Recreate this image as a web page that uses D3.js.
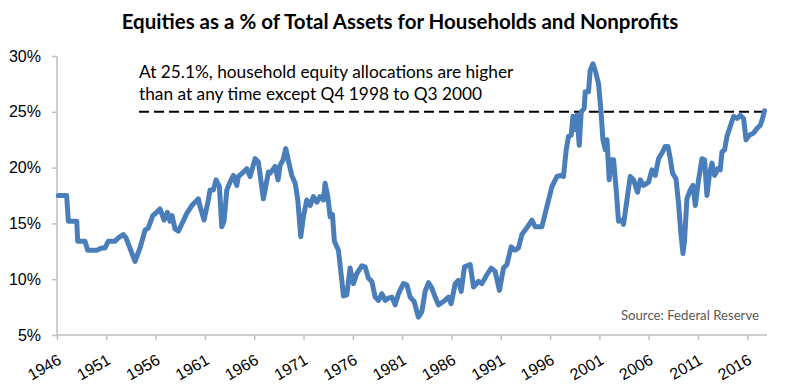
<!DOCTYPE html>
<html>
<head>
<meta charset="utf-8">
<script src="https://cdn.jsdelivr.net/npm/d3@7"></script>
<style>
  body { margin: 0; background: #fff; }
  svg { font-family: Lato, "Open Sans", sans-serif; }
  .title { font-weight: bold; font-size: 20.5px; fill: #000; }
  .note { font-size: 17.3px; fill: #000; }
  .src { font-size: 13.2px; fill: #595959; }
  .axis text { font-size: 16px; fill: #000; }
</style>
</head>
<body>
<svg width="800" height="386"></svg>
<script>
// values (year, % of total assets)
const years = [
  1946.13, 1946.98, 1947.15, 1948.0, 1948.1, 1948.84, 1949.11, 1950.03, 1950.53, 1950.87,
  1951.2, 1951.88, 1952.22, 1952.73, 1953.0, 1953.91, 1954.42, 1954.93, 1955.26, 1955.71,
  1956.11, 1956.45, 1956.86, 1957.19, 1957.46, 1957.67, 1957.97, 1958.31, 1959.16, 1959.67,
  1960.0, 1960.33, 1960.51, 1960.91, 1961.35, 1961.52, 1961.86, 1962.13, 1962.47, 1962.71,
  1962.94, 1963.22, 1963.55, 1963.89, 1964.23, 1964.39, 1964.9, 1965.25, 1965.58, 1966.09,
  1966.42, 1966.93, 1967.44, 1967.61, 1968.12, 1968.42, 1968.62, 1968.93, 1969.2, 1969.44,
  1969.81, 1970.15, 1970.42, 1970.72, 1970.99, 1971.33, 1971.67, 1972.0, 1972.35, 1972.68,
  1973.02, 1973.19, 1973.46, 1973.7, 1973.93, 1974.13, 1974.54, 1974.88, 1975.05, 1975.39,
  1975.72, 1976.06, 1976.4, 1976.91, 1977.25, 1977.58, 1977.93, 1978.26, 1978.6, 1978.94,
  1979.28, 1979.61, 1979.96, 1980.29, 1980.63, 1981.13, 1981.48, 1981.81, 1982.22, 1982.65,
  1983.0, 1983.33, 1983.67, 1984.01, 1984.35, 1984.68, 1985.19, 1985.7, 1985.97, 1986.38,
  1986.71, 1986.99, 1987.32, 1987.9, 1988.24, 1988.74, 1989.09, 1989.59, 1990.03, 1990.43,
  1990.87, 1991.28, 1991.62, 1992.06, 1992.46, 1992.8, 1993.14, 1993.65, 1994.16, 1994.49,
  1995.17, 1995.68, 1996.19, 1996.69, 1997.1, 1997.36, 1997.64, 1997.87, 1998.15, 1998.32,
  1998.55, 1998.72, 1998.96, 1999.16, 1999.46, 1999.57, 1999.9, 2000.07, 2000.35, 2000.58,
  2000.92, 2001.16, 2001.36, 2001.6, 2001.77, 2002.0, 2002.2, 2002.44, 2002.71, 2002.94,
  2003.29, 2003.45, 2003.8, 2004.13, 2004.47, 2004.87, 2005.15, 2005.48, 2005.99, 2006.33,
  2006.67, 2007.0, 2007.41, 2007.68, 2007.96, 2008.19, 2008.42, 2008.77, 2009.03, 2009.27,
  2009.48, 2009.64, 2009.88, 2010.22, 2010.49, 2010.73, 2011.06, 2011.41, 2011.67, 2011.91,
  2012.18, 2012.42, 2012.69, 2013.03, 2013.26, 2013.43, 2013.7, 2013.94, 2014.28, 2014.61,
  2014.96, 2015.29, 2015.63, 2015.87, 2016.2, 2016.64, 2016.98, 2017.32, 2017.55, 2017.75
];
const equityPct = [
  17.5, 17.5, 15.2, 15.2, 13.4, 13.4, 12.6, 12.6, 12.8, 12.8,
  13.4, 13.4, 13.7, 14.0, 13.7, 11.6, 12.8, 14.4, 14.6, 15.7,
  16.0, 16.3, 15.3, 16.0, 15.2, 15.7, 14.5, 14.3, 15.9, 16.6,
  16.9, 17.2, 16.5, 15.3, 17.1, 18.0, 18.0, 18.9, 18.3, 14.7,
  15.2, 18.0, 18.7, 19.3, 18.4, 19.2, 19.6, 19.9, 19.2, 20.8,
  20.5, 17.2, 19.6, 19.5, 20.1, 18.9, 20.2, 20.7, 21.7, 20.7,
  19.3, 18.6, 17.1, 13.8, 15.6, 17.1, 16.6, 17.4, 16.9, 17.4,
  17.1, 18.6, 17.4, 15.6, 15.8, 13.4, 12.6, 9.9, 8.5, 8.6,
  11.0, 9.6, 10.5, 11.2, 11.1, 10.1, 9.8, 8.4, 8.1, 8.7,
  8.1, 8.3, 8.4, 7.7, 8.7, 9.6, 9.5, 8.4, 8.0, 6.6,
  7.1, 8.9, 9.7, 9.2, 8.4, 7.7, 8.0, 8.4, 7.8, 9.6,
  9.9, 8.9, 11.1, 11.3, 9.3, 9.8, 9.6, 10.4, 11.0, 10.7,
  9.0, 11.0, 11.3, 12.9, 12.6, 12.8, 14.0, 14.6, 15.3, 14.7,
  14.7, 16.5, 18.3, 19.2, 19.3, 19.2, 21.6, 22.8, 22.9, 24.6,
  23.4, 24.7, 22.0, 25.0, 25.3, 26.8, 26.8, 28.7, 29.3, 28.7,
  27.5, 25.1, 22.5, 21.6, 22.5, 18.9, 20.7, 20.7, 18.0, 15.2,
  15.3, 14.9, 17.1, 19.2, 18.9, 17.8, 18.9, 18.4, 18.7, 19.8,
  19.3, 20.8, 21.4, 21.9, 21.9, 20.8, 19.5, 19.0, 16.8, 14.1,
  12.3, 13.5, 17.2, 18.0, 18.4, 16.6, 18.9, 20.8, 20.7, 17.5,
  19.5, 20.4, 19.3, 19.9, 19.8, 21.4, 21.6, 22.8, 23.7, 24.6,
  24.4, 24.7, 24.4, 22.5, 22.9, 23.1, 23.5, 23.8, 24.4, 25.1
];
const yTicks = [5, 10, 15, 20, 25, 30];
const xTicks = [1946, 1951, 1956, 1961, 1966, 1971, 1976, 1981, 1986, 1991, 1996, 2001, 2006, 2011, 2016];
const threshold = 25;
const titleText = 'Equities as a % of Total Assets for Households and Nonprofits';
const noteLines = ['At 25.1%, household equity allocations are higher',
                   'than at any time except Q4 1998 to Q3 2000'];
const sourceText = 'Source:  Federal Reserve';

let svg = d3.select('svg');
const plotLeft = 57, plotRight = 767, plotTop = 56, plotBottom = 335;

let x = d3.scaleLinear().domain([1946, 2018]).range([plotLeft, plotRight]);
let y = d3.scaleLinear().domain([5, 30]).range([plotBottom, plotTop]);

// axes
let yAxis = svg.append('g')
  .attr('class', 'axis')
  .attr('transform', 'translate(' + plotLeft + ',0)')
  .call(d3.axisLeft(y).tickValues(yTicks).tickSize(5).tickPadding(11)
    .tickFormat(d => d + '%'));

let xAxis = svg.append('g')
  .attr('class', 'axis')
  .attr('transform', 'translate(0,' + plotBottom + ')')
  .call(d3.axisBottom(x).tickValues(xTicks).tickSize(5).tickFormat(d3.format('d')));

svg.selectAll('.axis path, .axis line').attr('stroke', '#bfbfbf').attr('stroke-width', 1.5);
yAxis.select('.domain').attr('d', 'M0,' + plotTop + 'V' + plotBottom);
xAxis.select('.domain').attr('d', 'M' + plotLeft + ',0H' + plotRight);

xAxis.selectAll('text')
  .attr('text-anchor', 'end')
  .attr('dy', null)
  .attr('y', 0)
  .attr('transform', 'translate(5,28) rotate(-30)');

// dashed 25% line
svg.append('line')
  .attr('x1', 139).attr('x2', x(2017.75))
  .attr('y1', y(threshold)).attr('y2', y(threshold))
  .attr('stroke', '#000')
  .attr('stroke-width', 2)
  .attr('stroke-dasharray', '10,5');

// data line
let line = d3.line()
  .x((d, i) => x(years[i]))
  .y(d => y(d));

svg.append('path')
  .datum(equityPct)
  .attr('d', line)
  .attr('fill', 'none')
  .attr('stroke', '#4a7ebb')
  .attr('stroke-width', 5)
  .attr('stroke-linejoin', 'round')
  .attr('stroke-linecap', 'round');

// texts
svg.append('text')
  .attr('class', 'title')
  .attr('x', 400).attr('y', 29)
  .attr('text-anchor', 'middle')
  .text(titleText);

svg.selectAll('.note')
  .data(noteLines)
  .enter().append('text')
  .attr('class', 'note')
  .attr('x', 139)
  .attr('y', (d, i) => 78 + i * 22)
  .text(d => d);

svg.append('text')
  .attr('class', 'src')
  .attr('x', 759).attr('y', 320)
  .attr('text-anchor', 'end')
  .text(sourceText);
</script>
</body>
</html>
